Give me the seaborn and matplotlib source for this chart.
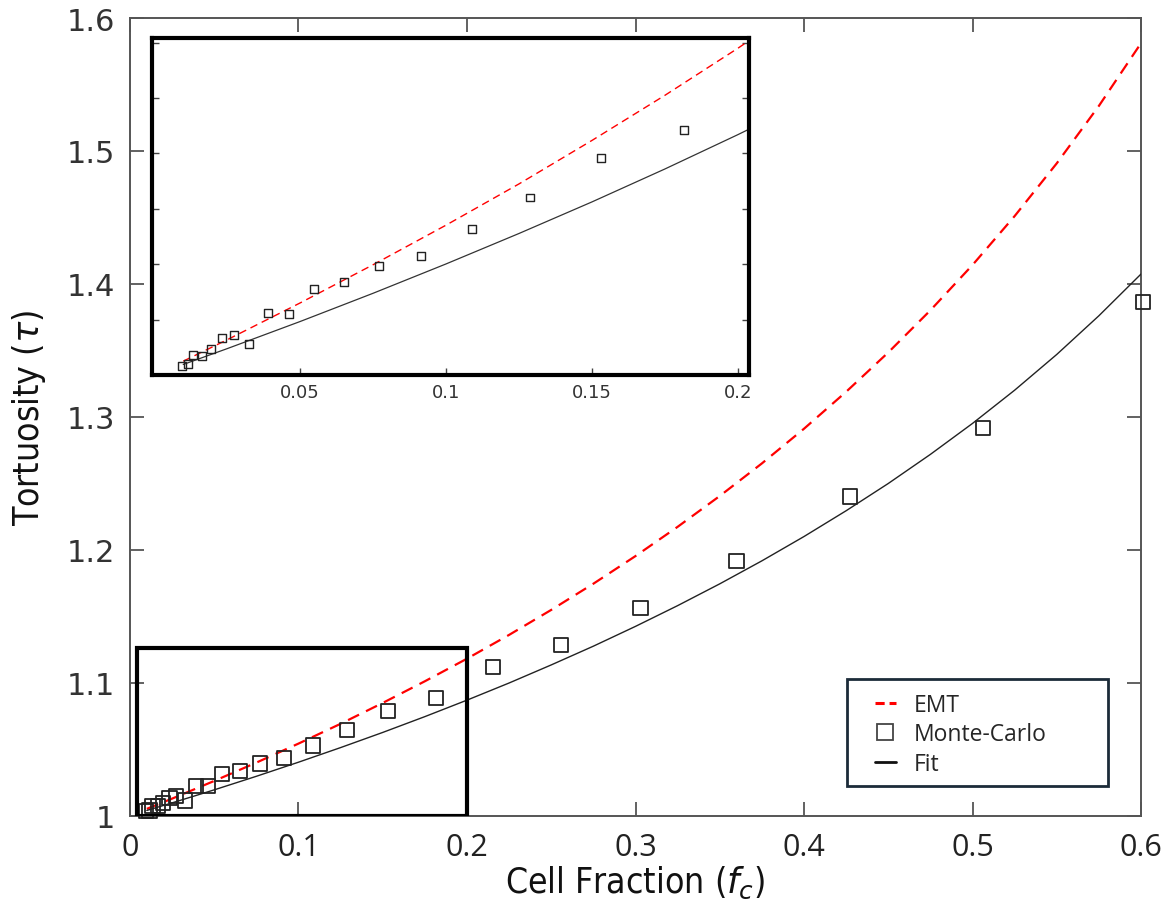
import numpy as np
import pandas as pd
import seaborn as sns
import matplotlib.pyplot as plt
from matplotlib.patches import Rectangle
from matplotlib.lines import Line2D

# Monte-Carlo points
mc_x = [0.0096, 0.0116, 0.0134, 0.0164, 0.0195, 0.0234, 0.0275, 0.0325, 0.0390, 0.0462,
        0.0548, 0.0652, 0.0771, 0.0916, 0.1088, 0.1289, 0.1530, 0.1815, 0.2156, 0.2556,
        0.3030, 0.3600, 0.4273, 0.5060, 0.6010]
mc_y = [1.0032, 1.0038, 1.0072, 1.0069, 1.0093, 1.0134, 1.0144, 1.0113, 1.0224, 1.0220,
        1.0311, 1.0335, 1.0392, 1.0431, 1.0527, 1.0641, 1.0784, 1.0886, 1.1120, 1.1285,
        1.1560, 1.1915, 1.2400, 1.2913, 1.3866]

# curves
curve_x = [0.01, 0.025, 0.05, 0.075, 0.1, 0.125, 0.15, 0.175, 0.2, 0.225, 0.25, 0.275, 0.3,
           0.325, 0.35, 0.375, 0.4, 0.425, 0.45, 0.475, 0.5, 0.525, 0.55, 0.575, 0.6]
emt_y = [1.0050, 1.0127, 1.0260, 1.0398, 1.0541, 1.0690, 1.0847, 1.1010, 1.1180, 1.1359,
         1.1547, 1.1744, 1.1952, 1.2172, 1.2404, 1.2649, 1.2910, 1.3188, 1.3484, 1.3801,
         1.4142, 1.4510, 1.4907, 1.5339, 1.5811]
fit_y = [1.0038, 1.0095, 1.0193, 1.0295, 1.0401, 1.0511, 1.0625, 1.0744, 1.0868, 1.0997,
         1.1133, 1.1274, 1.1423, 1.1579, 1.1743, 1.1916, 1.2099, 1.2293, 1.2498, 1.2717,
         1.2950, 1.3200, 1.3469, 1.3760, 1.4074]

x_ticks = [0, 0.1, 0.2, 0.3, 0.4, 0.5, 0.6]
x_tick_labels = ['0', '0.1', '0.2', '0.3', '0.4', '0.5', '0.6']
y_ticks = [1.0, 1.1, 1.2, 1.3, 1.4, 1.5, 1.6]
y_tick_labels = ['1', '1.1', '1.2', '1.3', '1.4', '1.5', '1.6']
inset_x_ticks = [0.05, 0.1, 0.15, 0.2]
inset_x_tick_labels = ['0.05', '0.1', '0.15', '0.2']
inset_y_ticks = [1.0, 1.02, 1.04, 1.06, 1.08, 1.1, 1.12]

mc = pd.DataFrame({'f': mc_x, 'tau': mc_y})
curves = pd.DataFrame({'f': curve_x, 'emt': emt_y, 'fit': fit_y})

sns.set_style('ticks')
plt.rcParams['font.family'] = ['DejaVu Sans']

fig = plt.figure(figsize=(11.71, 9.2), dpi=100)
ax = fig.add_axes([0.1110, 0.1125, 0.8634, 0.8668])

sns.lineplot(data=curves, x='f', y='emt', ax=ax, color='#ff0000', lw=1.6,
             linestyle=(0, (5.5, 3.5)), zorder=3)
sns.lineplot(data=curves, x='f', y='fit', ax=ax, color='#222222', lw=1.0, zorder=3)
sns.scatterplot(data=mc, x='f', y='tau', ax=ax, marker='s', s=105, facecolor='none',
                edgecolor='#222222', linewidth=1.3, zorder=4, clip_on=False)

ax.add_patch(Rectangle((0.004, 1.0), 0.196, 0.126, fill=False, ec='black', lw=3, zorder=5))

ax.set_xlim(0, 0.6)
ax.set_ylim(1.0, 1.6)
ax.set_xticks(x_ticks)
ax.set_xticklabels(x_tick_labels, fontsize=22, color='#222222', family=['Open Sans', 'DejaVu Sans'])
ax.set_yticks(y_ticks)
ax.set_yticklabels(y_tick_labels, fontsize=22, color='#333333')
ax.tick_params(direction='in', length=10, width=1.3, color='#555555', top=True, right=True)
ax.tick_params(axis='x', pad=12)
ax.tick_params(axis='y', pad=11)
for s in ax.spines.values():
    s.set_color('#555555')
    s.set_linewidth(1.4)
ax.set_xlabel(r'Cell Fraction ($f_c$)', fontsize=25.5, family='DejaVu Sans', fontstretch='condensed',
              color='#111111', labelpad=1)
ax.set_ylabel(r'Tortuosity ($\tau$)', fontsize=25.5, family='DejaVu Sans', fontstretch='condensed',
              color='#111111', labelpad=13)

# legend with a square frame drawn separately
ax.add_patch(Rectangle((0.7092, 0.037), 0.258, 0.134, transform=ax.transAxes, fill=False,
                       ec='#1c2b39', lw=2, zorder=6))
handles = [Line2D([], [], color='#ff0000', lw=2.2, linestyle=(0, (3, 1.6))),
           Line2D([], [], color='#444444', marker='s', markersize=11, markerfacecolor='none',
                  markeredgewidth=1.3, linestyle='none'),
           Line2D([], [], color='#111111', lw=2)]
leg = ax.legend(handles, ['EMT', 'Monte-Carlo', 'Fit'], loc='upper left',
                bbox_to_anchor=(0.737, 0.154), frameon=False, borderpad=0, borderaxespad=0,
                handlelength=0.9, handletextpad=0.8, labelspacing=0.25,
                prop={'family': ['Open Sans', 'DejaVu Sans'], 'size': 16.5})

# inset
axin = fig.add_axes([0.1298, 0.5913, 0.5098, 0.3663])
sns.lineplot(data=curves, x='f', y='emt', ax=axin, color='#ff0000', lw=1.0,
             linestyle=(0, (5.5, 3.5)))
sns.lineplot(data=curves, x='f', y='fit', ax=axin, color='#333333', lw=0.9)
sns.scatterplot(data=mc, x='f', y='tau', ax=axin, marker='s', s=33, facecolor='none',
                edgecolor='#222222', linewidth=1.0, zorder=4)
axin.set_xlim(-0.0007, 0.2038)
axin.set_ylim(1.0, 1.1217)
axin.set_xticks(inset_x_ticks)
axin.set_xticklabels(inset_x_tick_labels, fontsize=13, color='#333333')
axin.set_yticks(inset_y_ticks)
axin.set_yticklabels([])
axin.tick_params(direction='in', length=5, width=1, color='#444444', right=True, pad=6)
axin.set_xlabel('')
axin.set_ylabel('')
for s in axin.spines.values():
    s.set_color('black')
    s.set_linewidth(3)

fig.savefig('out.png', dpi=100)
